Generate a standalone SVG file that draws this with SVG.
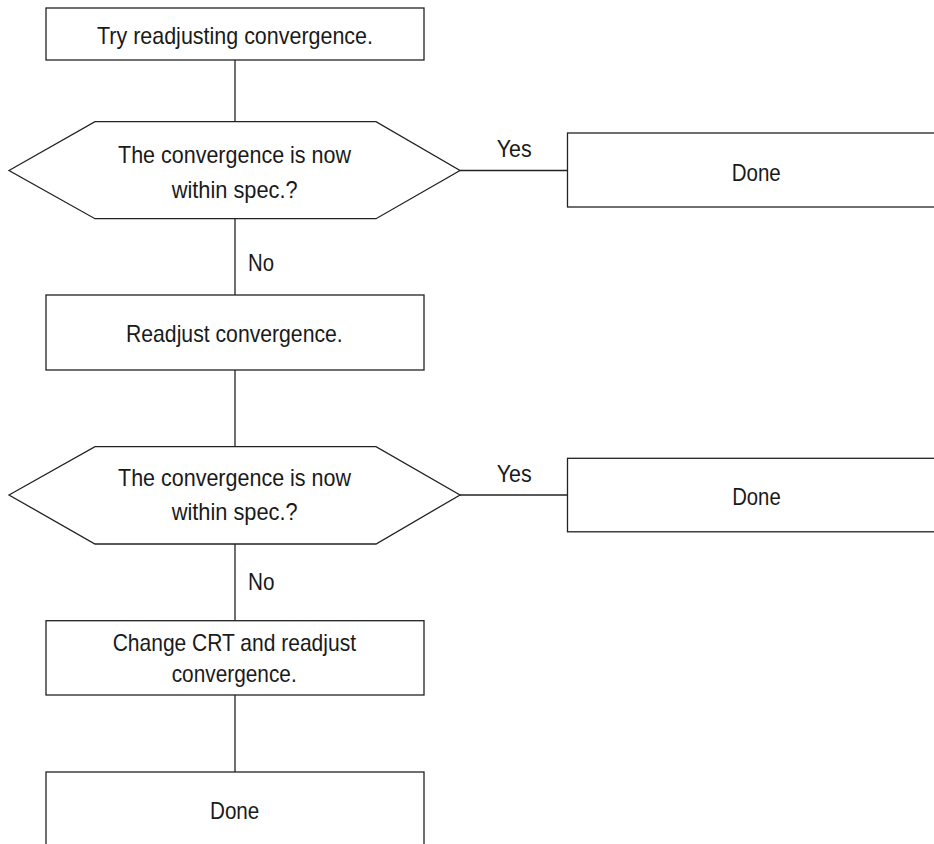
<svg xmlns="http://www.w3.org/2000/svg" width="934" height="844" viewBox="0 0 934 844">
<style>
.shape{fill:#ffffff;stroke:#222222;stroke-width:1.3}
.conn{fill:none;stroke:#222222;stroke-width:1.3}
text{font-family:"Liberation Sans",Arial,sans-serif;font-size:24px;fill:#1a1a1a}
</style>
<rect width="934" height="844" fill="#ffffff"/>
<g id="connectors">
<line class="conn" x1="235" y1="60" x2="235" y2="121.7"/>
<line class="conn" x1="460" y1="170.5" x2="567.5" y2="170.5"/>
<line class="conn" x1="235" y1="218.7" x2="235" y2="295"/>
<line class="conn" x1="235" y1="370" x2="235" y2="446.7"/>
<line class="conn" x1="460" y1="495" x2="567.5" y2="495"/>
<line class="conn" x1="235" y1="544" x2="235" y2="620.7"/>
<line class="conn" x1="235" y1="695" x2="235" y2="772"/>
<text x="496.7" y="156.7" textLength="35" lengthAdjust="spacingAndGlyphs">Yes</text>
<text x="248" y="270.7" textLength="26" lengthAdjust="spacingAndGlyphs">No</text>
<text x="496.7" y="481.5" textLength="35" lengthAdjust="spacingAndGlyphs">Yes</text>
<text x="248" y="590" textLength="26.5" lengthAdjust="spacingAndGlyphs">No</text>
</g>
<g id="n1">
<rect class="shape" x="46" y="8" width="378" height="52"/>
<text x="97" y="43.5" textLength="276" lengthAdjust="spacingAndGlyphs">Try readjusting convergence.</text>
</g>
<g id="d1">
<polygon class="shape" points="9,170.5 95,121.7 376,121.7 460,170.5 376,218.7 95,218.7"/>
<text x="118" y="162.5" textLength="233" lengthAdjust="spacingAndGlyphs">The convergence is now</text>
<text x="171.7" y="197.5" textLength="126" lengthAdjust="spacingAndGlyphs">within spec.?</text>
</g>
<g id="done1">
<rect class="shape" x="567.5" y="133" width="400" height="74"/>
<text x="731.7" y="180.5" textLength="49" lengthAdjust="spacingAndGlyphs">Done</text>
</g>
<g id="n2">
<rect class="shape" x="46" y="295" width="378" height="75"/>
<text x="126" y="342.3" textLength="216.7" lengthAdjust="spacingAndGlyphs">Readjust convergence.</text>
</g>
<g id="d2">
<polygon class="shape" points="9,495 95,446.7 376,446.7 460,495 376,544 95,544"/>
<text x="118" y="485.5" textLength="233" lengthAdjust="spacingAndGlyphs">The convergence is now</text>
<text x="171.7" y="520" textLength="126" lengthAdjust="spacingAndGlyphs">within spec.?</text>
</g>
<g id="done2">
<rect class="shape" x="567.5" y="458.3" width="400" height="73.5"/>
<text x="732.2" y="505" textLength="48.5" lengthAdjust="spacingAndGlyphs">Done</text>
</g>
<g id="n3">
<rect class="shape" x="46" y="620.7" width="378" height="74.3"/>
<text x="112.7" y="651" textLength="243.3" lengthAdjust="spacingAndGlyphs">Change CRT and readjust</text>
<text x="171.7" y="681.5" textLength="125" lengthAdjust="spacingAndGlyphs">convergence.</text>
</g>
<g id="done3">
<rect class="shape" x="46" y="772" width="378" height="100"/>
<text x="210" y="819" textLength="49.3" lengthAdjust="spacingAndGlyphs">Done</text>
</g>
</svg>
